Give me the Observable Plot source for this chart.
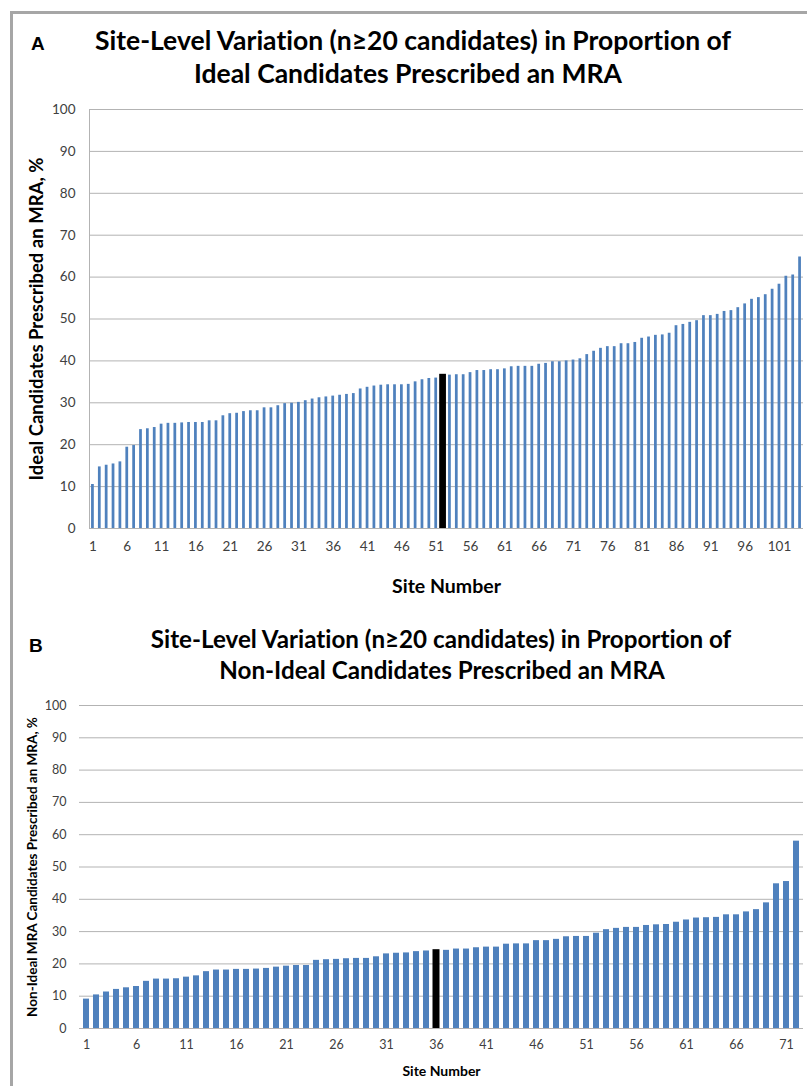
<!DOCTYPE html>
<html><head><meta charset="utf-8">
<script src="https://cdn.jsdelivr.net/npm/d3@7"></script>
<script src="https://cdn.jsdelivr.net/npm/@observablehq/plot@0.6"></script>
<style>
html,body{margin:0;padding:0;background:#fff;width:807px;height:1086px;overflow:hidden;font-family:Lato,"Open Sans",sans-serif;}
#page{position:relative;width:807px;height:1086px;overflow:hidden;}
#frame{position:absolute;left:10px;top:11px;width:900px;height:1200px;border:3px solid #a6a6a6;box-sizing:border-box;}
.chart{position:absolute;left:0;}
#chartA{top:95px;}
#chartB{top:690px;}
#overlay{position:absolute;left:0;top:0;font-variant-ligatures:none;}
.chart svg{font-variant-ligatures:none;}
.chart svg [aria-label="y-axis label"] text,.chart svg [aria-label="x-axis label"] text{font-weight:bold;fill:#000;}
#chartA svg [aria-label="y-axis label"] text{font-size:18.5px;}
#chartA svg [aria-label="x-axis label"] text{font-size:19.5px;}
#chartB svg [aria-label="y-axis label"] text{font-size:13.5px;}
#chartB svg [aria-label="x-axis label"] text{font-size:14px;}
</style>
</head><body>
<div id="page">
<div id="frame"></div>
<svg id="overlay" width="807" height="1086"></svg>
<div id="chartA" class="chart"></div>
<div id="chartB" class="chart"></div>
</div>
<script>
// ---- Panel A data: proportion of ideal candidates prescribed an MRA, by site (sorted) ----
const valuesA = [10.5,14.7,15.1,15.4,15.9,19.4,19.8,23.6,23.8,24.1,
24.9,25.1,25.1,25.2,25.3,25.3,25.3,25.7,25.7,26.9,
27.4,27.5,27.9,28.1,28.1,28.8,28.8,29.3,29.8,29.9,
30.1,30.5,30.9,31.2,31.4,31.6,31.8,32.0,32.2,33.3,
33.7,34.0,34.2,34.3,34.3,34.3,34.4,35.0,35.5,35.8,
35.9,36.8,36.6,36.7,36.7,37.2,37.7,37.7,37.9,37.9,
38.1,38.6,38.7,38.7,38.7,39.2,39.4,39.8,39.8,40.0,
40.2,40.5,41.5,42.3,43.0,43.4,43.4,44.1,44.1,44.4,
45.4,45.7,46.1,46.2,46.6,48.4,48.7,49.2,49.6,50.8,
50.8,51.1,51.8,52.0,52.7,53.6,54.7,55.1,55.8,57.1,
58.3,60.2,60.5,64.8];
const highlightA = 52; // median site drawn in black
const xTicksA = [1,6,11,16,21,26,31,36,41,46,51,56,61,66,71,76,81,86,91,96,101];

// ---- Panel B data: proportion of non-ideal candidates prescribed an MRA ----
const valuesB = [9.1,10.4,11.3,12.1,12.6,13.0,14.6,15.3,15.3,15.4,
15.9,16.3,17.6,18.1,18.1,18.3,18.3,18.4,18.6,19.0,
19.3,19.5,19.5,21.1,21.3,21.4,21.6,21.7,21.7,22.2,
23.1,23.3,23.4,23.8,24.0,24.4,24.2,24.6,24.6,25.0,
25.2,25.2,26.1,26.2,26.2,27.2,27.2,27.6,28.4,28.5,
28.5,29.5,30.6,31.0,31.3,31.3,31.9,32.1,32.2,32.9,
33.6,34.2,34.3,34.4,35.2,35.2,36.1,36.8,38.9,44.8,
45.5,58.0];
const highlightB = 36;
const xTicksB = [1,6,11,16,21,26,31,36,41,46,51,56,61,66,71];

const yTicks = [0,10,20,30,40,50,60,70,80,90,100];

const titleA = ["Site-Level Variation (n\u226520 candidates) in Proportion of","Ideal Candidates Prescribed an MRA"];
const titleB = ["Site-Level Variation (n\u226520 candidates) in Proportion of","Non-Ideal Candidates Prescribed an MRA"];

const blue = "#4f81bd";
const gridColor = "#b3b3b3";

const dataA = valuesA.map((v,i)=>({site:i+1, value:v, hl:(i+1)===highlightA}));
const dataB = valuesB.map((v,i)=>({site:i+1, value:v, hl:(i+1)===highlightB}));

const plotA = Plot.plot({
  width: 807, height: 505,
  marginTop: 14, marginBottom: 72, marginLeft: 89, marginRight: 4,
  style: {fontFamily: "Lato, sans-serif", fontSize: "13.5px", color: "#404040", background: "transparent", overflow: "visible"},
  x: {type: "band", domain: dataA.map(d=>d.site), paddingInner: 0.6, paddingOuter: 0.3, axis: null},
  y: {domain: [0,100], axis: null},
  marks: [
    Plot.gridY(yTicks, {stroke: gridColor, strokeOpacity: 1}),
    Plot.frame({anchor: "left", stroke: gridColor, strokeOpacity: 1}),
    Plot.barY(dataA.filter(d=>!d.hl), {x: "site", y: "value", fill: blue}),
    Plot.barY(dataA.filter(d=>d.hl), {x: "site", y: "value", fill: "#000", insetLeft: -2, insetRight: -2}),
    Plot.axisY(yTicks, {tickSize: 0, tickPadding: 14, fontSize: 13.5, label: "Ideal Candidates Prescribed an MRA, %", labelAnchor: "center", labelArrow: "none", labelOffset: 60}),
    Plot.axisX(xTicksA, {tickSize: 0, tickPadding: 13, fontSize: 13.5, label: "Site Number", labelAnchor: "center", labelArrow: "none", labelOffset: 64})
  ]
});
document.getElementById("chartA").appendChild(plotA);

const plotB = Plot.plot({
  width: 807, height: 396,
  marginTop: 15, marginBottom: 58, marginLeft: 79, marginRight: 4,
  style: {fontFamily: "Lato, sans-serif", fontSize: "12.5px", color: "#404040", background: "transparent", overflow: "visible"},
  x: {type: "band", domain: dataB.map(d=>d.site), paddingInner: 0.4, paddingOuter: 0.2, axis: null},
  y: {domain: [0,100], axis: null},
  marks: [
    Plot.gridY(yTicks, {stroke: gridColor, strokeOpacity: 1}),
    Plot.barY(dataB.filter(d=>!d.hl), {x: "site", y: "value", fill: blue}),
    Plot.barY(dataB.filter(d=>d.hl), {x: "site", y: "value", fill: "#000", insetLeft: -0.5, insetRight: -0.5}),
    Plot.axisY(yTicks, {tickSize: 0, tickPadding: 13, fontSize: 12.5, label: "Non-Ideal MRA Candidates Prescribed an MRA, %", labelAnchor: "center", labelArrow: "none", labelOffset: 52}),
    Plot.axisX(xTicksB, {tickSize: 0, tickPadding: 12, fontSize: 12.5, label: "Site Number", labelAnchor: "center", labelArrow: "none", labelOffset: 47})
  ]
});
document.getElementById("chartB").appendChild(plotB);

// titles and panel letters
const ov = d3.select("#overlay");
function addText(x, y, txt, size, family, anchor) {
  ov.append("text").attr("x", x).attr("y", y).attr("text-anchor", anchor)
    .attr("font-family", family).attr("font-weight", "bold").attr("font-size", size)
    .attr("fill", "#000").text(txt);
}
addText(31, 50, "A", 19, "Liberation Sans, Arial, sans-serif", "start");
addText(413, 50, titleA[0], 26.5, "Lato, sans-serif", "middle");
addText(408, 83, titleA[1], 26.5, "Lato, sans-serif", "middle");
addText(29, 652, "B", 19, "Liberation Sans, Arial, sans-serif", "start");
addText(441, 648, titleB[0], 24.2, "Lato, sans-serif", "middle");
addText(442, 679, titleB[1], 24.2, "Lato, sans-serif", "middle");
</script>
</body></html>
